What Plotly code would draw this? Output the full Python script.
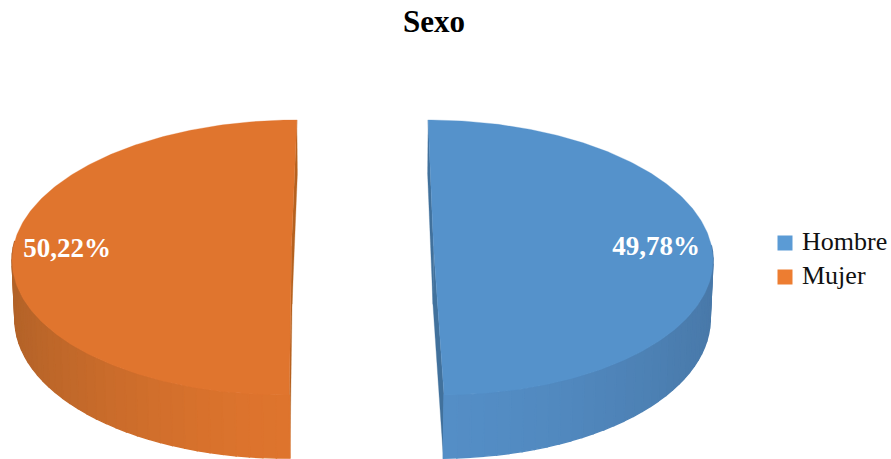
import numpy as np
import plotly.graph_objects as go

TITLE = "Sexo"
categories = ["Hombre", "Mujer"]
shares = [49.78, 50.22]
labels = ["49,78%", "50,22%"]

face_colors = ["#5592CB", "#E0752E"]
legend_colors = ["#5B9BD5", "#ED7D31"]
cut_colors = ["#41719C", "#B5611F"]
side_light = [(84, 142, 198), (222, 116, 45)]
side_dark = [(72, 120, 168), (178, 98, 40)]
label_pos = [(656, 248), (67, 250)]
legend_x, legend_text_x = 785, 802
legend_y = [243, 277]

CX, CY = 362.5, 246.2
A, B, K = 278.0, 136.6, 0.082
EXPLODE = 71.0
DEPTH = 58.0
SHRINK = 0.992


def project(u, v, lower=False):
    """u: horizontal pie units (px), v: depth units in [-1, 1] (+1 = back)."""
    w = 1 + K * v
    x = u / w
    y = -B * v / w
    if lower:
        x = x * SHRINK
        y = y + DEPTH / w
    return CX + x, CY + y


def rim(theta, sign, lower=False):
    return project(sign * EXPLODE + A * np.sin(theta), np.cos(theta), lower)


def poly(xs, ys, color, lw=0.6):
    return go.Scatter(x=xs, y=ys, mode="lines", fill="toself", fillcolor=color,
                      line=dict(color=color, width=lw), hoverinfo="skip",
                      showlegend=False)


def mix(a, b, t):
    return "rgb(%d,%d,%d)" % tuple(round(a[i] + (b[i] - a[i]) * t) for i in range(3))


fig = go.Figure()
start = 0.0
for i, share in enumerate(shares):
    end = start + share / 100 * 2 * np.pi
    sign = 1 if i == 0 else -1
    # cut faces
    for th in (start, end):
        x1, y1 = project(sign * EXPLODE, 0.0)
        x2, y2 = rim(th, sign)
        x3, y3 = rim(th, sign, True)
        x4, y4 = project(sign * EXPLODE, 0.0, True)
        fig.add_trace(poly([x1, x2, x3, x4, x1], [y1, y2, y3, y4, y1], cut_colors[i], 0.3))
    # outer wall, drawn as shaded strips (only the front half can be seen)
    n = 70
    edges = np.linspace(start, end, n + 1)
    for a0, a1 in zip(edges[:-1], edges[1:]):
        mid = (a0 + a1) / 2
        if np.cos(mid) > 0.02:
            continue
        xa, ya = rim(a0, sign)
        xb, yb = rim(a1, sign)
        xc, yc = rim(a1, sign, True)
        xd, yd = rim(a0, sign, True)
        t = abs(np.sin(mid)) ** 1.5
        fig.add_trace(poly([xa, xb, xc, xd, xa], [ya, yb, yc, yd, ya],
                           mix(side_light[i], side_dark[i], t), 1.4))
    # top face
    th = np.linspace(start, end, 240)
    xs, ys = rim(th, sign)
    cx0, cy0 = project(sign * EXPLODE, 0.0)
    fig.add_trace(poly(np.r_[cx0, xs, cx0], np.r_[cy0, ys, cy0], face_colors[i], 0.3))
    start = end

fig.add_trace(go.Scatter(x=[p[0] for p in label_pos], y=[p[1] for p in label_pos],
                         mode="text", text=labels, hoverinfo="skip", showlegend=False,
                         textposition="middle center",
                         textfont=dict(family="Liberation Serif", size=27, color="white",
                                       weight="bold")))
# legend keys and their names
fig.add_trace(go.Scatter(x=[legend_x] * len(categories), y=legend_y, mode="markers",
                         marker=dict(symbol="square", size=15, color=legend_colors),
                         hoverinfo="skip", showlegend=False))
fig.add_trace(go.Scatter(x=[legend_text_x] * len(categories), y=legend_y, mode="text",
                         text=categories, textposition="middle right", hoverinfo="skip",
                         showlegend=False,
                         textfont=dict(family="Liberation Serif", size=26, color="#111111")))

fig.update_layout(
    width=891, height=459, autosize=False, showlegend=False,
    margin=dict(l=0, r=0, t=0, b=0),
    paper_bgcolor="white", plot_bgcolor="white",
    title=dict(text="<b>%s</b>" % TITLE, x=0.487, xanchor="center", y=0.953, yanchor="middle",
               font=dict(family="Liberation Serif", size=31, color="black")),
    xaxis=dict(range=[0, 891], visible=False, fixedrange=True),
    yaxis=dict(range=[459, 0], visible=False, fixedrange=True),
)
fig.write_html("out.html", config={"displayModeBar": False},
               post_script="document.body.style.margin='0';")
